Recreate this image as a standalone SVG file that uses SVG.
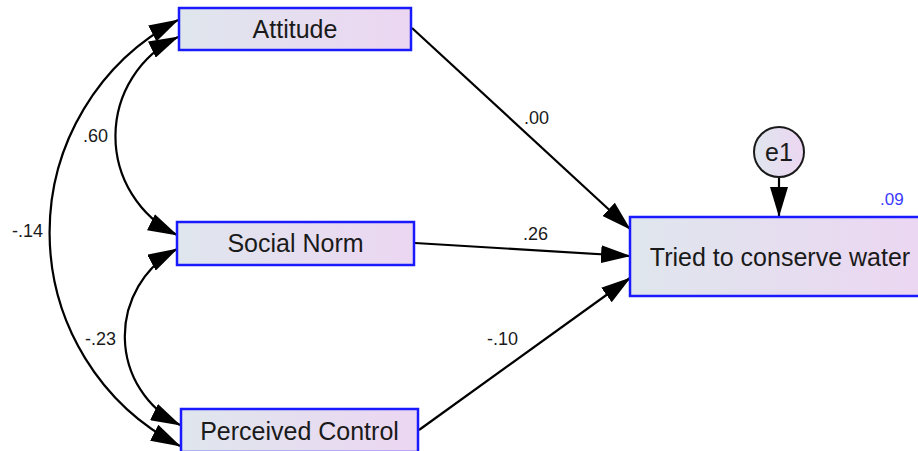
<svg xmlns="http://www.w3.org/2000/svg" width="918" height="451" viewBox="0 0 918 451">
  <defs>
    <linearGradient id="boxFill" x1="0" y1="0" x2="1" y2="0">
      <stop offset="0" stop-color="#dfe6ed"/>
      <stop offset="1" stop-color="#ecd6f2"/>
    </linearGradient>
    <marker id="head" viewBox="0 0 30 18" refX="29" refY="9" markerWidth="30" markerHeight="18" markerUnits="userSpaceOnUse" orient="auto-start-reverse">
      <path d="M0,0 L30,9 L0,18 z" fill="#000"/>
    </marker>
    <style>
      .box { fill: url(#boxFill); stroke: #1a1aff; stroke-width: 2.5; }
      .err { fill: url(#boxFill); stroke: #1a1a1a; stroke-width: 2; }
      .name { font-family: "Liberation Sans", Arial, sans-serif; font-size: 25px; fill: #1a1a1a; text-anchor: middle; }
      .coef { font-family: "Liberation Sans", Arial, sans-serif; font-size: 18px; fill: #1a1a1a; }
      .r2 { font-family: "Liberation Sans", Arial, sans-serif; font-size: 17px; fill: #3b3bff; }
      .path { fill: none; stroke: #000; stroke-width: 2.2; marker-end: url(#head); }
      .cov { fill: none; stroke: #000; stroke-width: 2.2; marker-start: url(#head); marker-end: url(#head); }
    </style>
  </defs>

  <!-- connectors: covariances and regression paths -->
  <g id="connectors">
    <path class="cov" d="M178,20 A240,240 0 0 0 180,446"/>
    <path class="cov" d="M178,37 A110,110 0 0 0 177,235"/>
    <path class="cov" d="M177,249 A99,99 0 0 0 180,425"/>
    <path class="path" d="M412,28 L630,229"/>
    <path class="path" d="M415,243 L630,256"/>
    <path class="path" d="M419,430 L630,278"/>
    <path class="path" d="M779,177 L779,216"/>

    <text class="coef" x="83" y="142">.60</text>
    <text class="coef" x="12" y="237">-.14</text>
    <text class="coef" x="85" y="345">-.23</text>
    <text class="coef" x="524" y="124">.00</text>
    <text class="coef" x="523" y="240">.26</text>
    <text class="coef" x="487" y="345">-.10</text>
  </g>

  <g id="attitude">
    <rect class="box" x="179" y="8" width="232" height="42"/>
    <text class="name" x="295" y="38">Attitude</text>
  </g>

  <g id="social-norm">
    <rect class="box" x="177" y="222" width="237" height="43"/>
    <text class="name" x="295.5" y="252">Social Norm</text>
  </g>

  <g id="perceived-control">
    <rect class="box" x="181" y="409" width="237" height="43"/>
    <text class="name" x="299.5" y="440">Perceived Control</text>
  </g>

  <g id="tried-to-conserve-water">
    <rect class="box" x="630" y="217" width="300" height="79"/>
    <text class="name" x="780" y="266">Tried to conserve water</text>
    <text class="r2" x="880" y="205">.09</text>
  </g>

  <g id="e1">
    <circle class="err" cx="779" cy="152" r="25"/>
    <text class="name" x="779" y="161">e1</text>
  </g>
</svg>
